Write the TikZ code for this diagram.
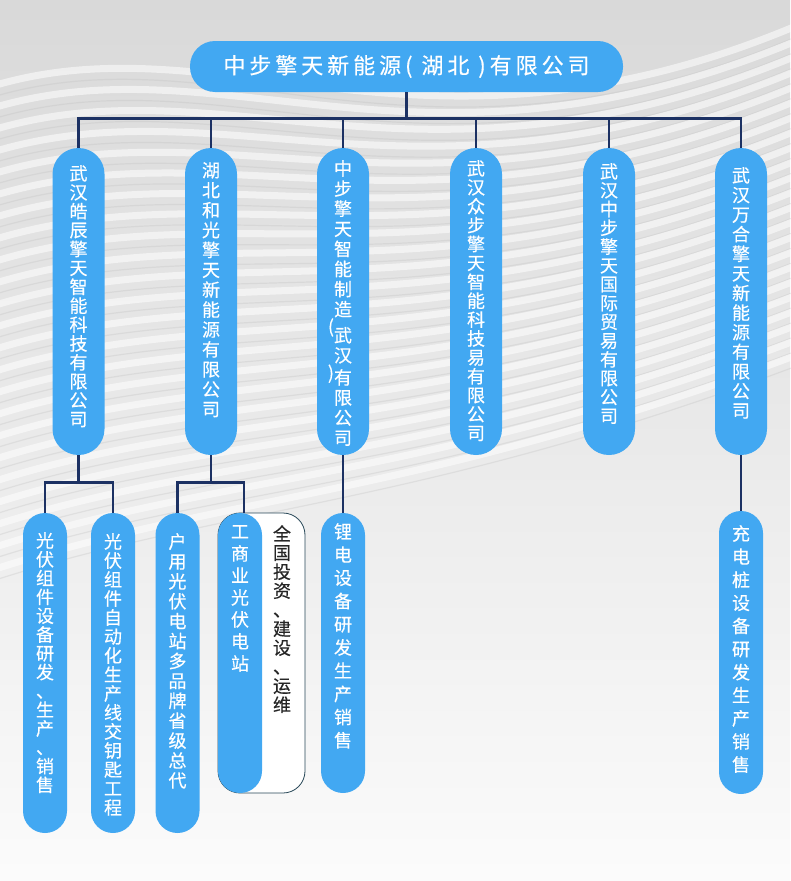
\documentclass[tikz,border=0pt]{standalone}
\usepackage{fontspec}
\newfontfamily\cjk[FakeBold=0.4]{Noto Sans CJK SC}
\newfontfamily\cjktitle[LetterSpace=18, FakeBold=0.4]{Noto Sans CJK SC}
\usetikzlibrary{positioning, calc}
\definecolor{pillblue}{RGB}{66,168,242}
\definecolor{linknavy}{RGB}{28,49,99}
\definecolor{boxedge}{RGB}{40,72,88}

\begin{document}
\begin{tikzpicture}[x=1pt, y=-1pt,
  head/.style={fill=pillblue, text=white, rounded corners=25pt, minimum width=433pt, minimum height=51pt, inner sep=0pt, font=\cjktitle\fontsize{22}{24}\selectfont},
  firm/.style={fill=pillblue, rounded corners=26pt, minimum width=52pt, minimum height=307pt, inner sep=0pt},
  biz/.style={fill=pillblue, rounded corners=22pt, minimum width=44pt, inner sep=0pt},
  note/.style={draw=boxedge, fill=white, rounded corners=22pt, line width=0.8pt, inner sep=0pt},
  word/.style={text=white, align=center, anchor=north, inner sep=0pt, font=\cjk\fontsize{18}{#1}\selectfont},
  word/.default=19,
  link/.style={draw=linknavy, line width=2.6pt}]
% Background
\useasboundingbox (0,0) rectangle (790,881);
\shade[top color=gray!30, middle color=gray!10, bottom color=gray!3] (0,0) rectangle (790,881);
\foreach \k in {0,...,22} {
  \draw[white, line width=7pt, opacity=.55] (-20,90+22*\k) .. controls (220,10+22*\k) and (420,190+14*\k) .. (810,20+15*\k);
  \draw[gray!50, line width=1.2pt, opacity=.3] (-20,101+22*\k) .. controls (220,21+22*\k) and (420,201+14*\k) .. (810,31+15*\k);
}

% Draw head company
\node[head] (top) at (406.5,66.5) {中步擎天新能源( 湖北 )有限公司};

% Draw companies
\node[firm] (c1) at (78.5,301.5) {};
\node[firm] (c2) at (211,301.5) {};
\node[firm] (c3) at (343,301.5) {};
\node[firm] (c4) at (476,301.5) {};
\node[firm] (c5) at (609,301.5) {};
\node[firm] (c6) at (741,301.5) {};
\node[word=18.9] (c1t) at (78.5,165) {武\\汉\\皓\\辰\\擎\\天\\智\\能\\科\\技\\有\\限\\公\\司};
\node[word=19.9] (c2t) at (211,162) {湖\\北\\和\\光\\擎\\天\\新\\能\\源\\有\\限\\公\\司};
\node[word=20.1] (c3t) at (343,160) {中\\步\\擎\\天\\智\\能\\制\\造\\\makebox[0pt][r]{\raisebox{9pt}{(}}武\\汉\\\makebox[0pt][r]{\raisebox{5pt}{)}}有\\限\\公\\司};
\node[word=18.9] (c4t) at (476,160) {武\\汉\\众\\步\\擎\\天\\智\\能\\科\\技\\易\\有\\限\\公\\司};
\node[word=18.8] (c5t) at (609,163) {武\\汉\\中\\步\\擎\\天\\国\\际\\贸\\易\\有\\限\\公\\司};
\node[word=19.6] (c6t) at (741,167) {武\\汉\\万\\合\\擎\\天\\新\\能\\源\\有\\限\\公\\司};

% Draw business lines
\node[biz, minimum height=320pt] (s1) at (45,673) {};
\node[biz, minimum height=320pt] (s2) at (113,673) {};
\node[biz, minimum height=320pt] (s3) at (177.5,673) {};
\node[note, minimum width=87pt, minimum height=280pt] (n4) at (261.5,653) {};
\node[biz, minimum height=280pt] (s4) at (240,653) {};
\node[biz, minimum height=280pt] (s5) at (343,653) {};
\node[biz, minimum height=283pt] (s6) at (741,652.5) {};
\node[word=18.8] (s1t) at (45,532) {光\\伏\\组\\件\\设\\备\\研\\发\\、\\生\\产\\、\\销\\售};
\node[word=19] (s2t) at (113,533) {光\\伏\\组\\件\\自\\动\\化\\生\\产\\线\\交\\钥\\匙\\工\\程};
\node[word=19.9] (s3t) at (177.5,533) {户\\用\\光\\伏\\电\\站\\多\\品\\牌\\省\\级\\总\\代};
\node[word=22] (s4t) at (240,525) {工\\商\\业\\光\\伏\\电\\站};
\node[word=19, text=black!85] (n4t) at (282,525) {全\\国\\投\\资\\、\\建\\设\\、\\运\\维};
\node[word=23.2] (s5t) at (343,523) {锂\\电\\设\\备\\研\\发\\生\\产\\销\\售};
\node[word=23.1] (s6t) at (741,525) {充\\电\\桩\\设\\备\\研\\发\\生\\产\\销\\售};

% Draw links
\foreach \i in {1,...,6}
  \draw[link] (top.south) -- ++(0,26) -| (c\i.north);
\draw[link] (c1.south) -- ++(0,27) -| (s1.north);
\draw[link] (c1.south) -- ++(0,27) -| (s2.north);
\draw[link] (c2.south) -- ++(0,27) -| (s3.north);
\draw[link] (c2.south) -- ++(0,27) -| ([xshift=4pt]s4.north);
\draw[link] (c3.south) -- (s5.north);
\draw[link] (c6.south) -- (s6.north);
\end{tikzpicture}
\end{document}
